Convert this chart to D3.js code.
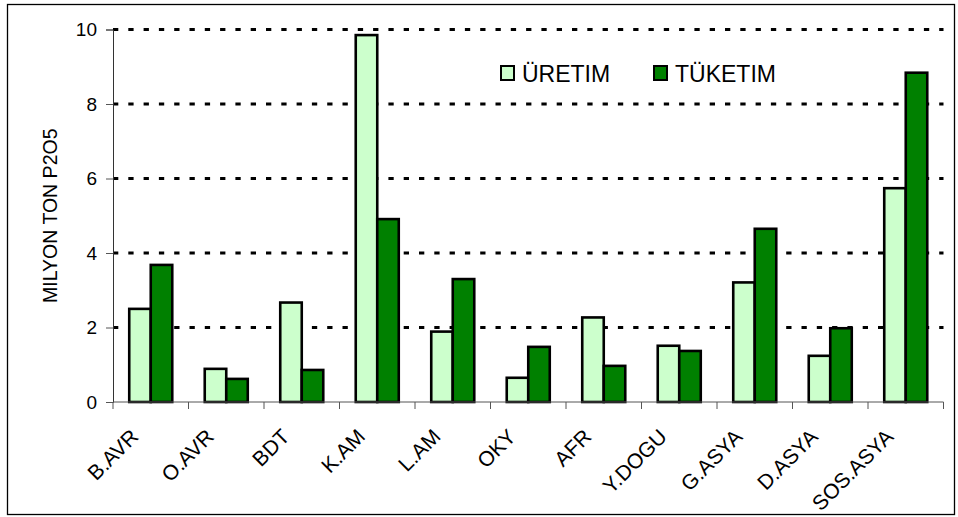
<!DOCTYPE html>
<html>
<head>
<meta charset="utf-8">
<script src="https://cdn.jsdelivr.net/npm/d3@7"></script>
<style>
  body { margin: 0; background: #fff; }
  text { font-family: Arial, "Liberation Sans", sans-serif; fill: #000; }
</style>
</head>
<body>
<svg id="chart" width="958" height="517"></svg>
<script>
// data
let regions = ['B.AVR', 'O.AVR', 'BDT', 'K.AM', 'L.AM', 'OKY', 'AFR', 'Y.DOGU', 'G.ASYA', 'D.ASYA', 'SOS.ASYA'];
let uretim  = [2.50, 0.89, 2.67, 9.85, 1.89, 0.65, 2.27, 1.51, 3.21, 1.24, 5.74];
let tuketim = [3.68, 0.62, 0.86, 4.91, 3.30, 1.48, 0.97, 1.37, 4.65, 1.98, 8.84];
let seriesNames = ['ÜRETIM', 'TÜKETIM'];
let seriesColors = ['#ccffcc', '#008000'];
let yTicks = [0, 2, 4, 6, 8, 10];
let yTitle = 'MILYON TON P2O5';

let rows = regions.map((r, i) => ({ region: r, values: [uretim[i], tuketim[i]] }));

let margin = { top: 29.5, right: 14.5, bottom: 115, left: 113 };
let width = 958 - margin.left - margin.right;
let height = 517 - margin.top - margin.bottom;

let svg = d3.select('#chart');

// outer frame
svg.append('rect')
  .attr('x', 7.5).attr('y', 4.5)
  .attr('width', 947).attr('height', 510)
  .attr('fill', 'none').attr('stroke', '#000').attr('stroke-width', 1.3);

let chart = svg.append('g')
  .attr('transform', 'translate(' + margin.left + ',' + margin.top + ')');

let x0 = d3.scaleBand().domain(regions).range([0, width]).padding(0);
let x1 = d3.scaleBand().domain(seriesNames).range([0, x0.bandwidth()])
  .paddingInner(0).paddingOuter(0.755);
let y = d3.scaleLinear().domain([0, 10]).range([height, 0]);

// dotted grid lines
chart.append('g')
  .selectAll('line')
  .data(yTicks.filter(d => d > 0))
  .enter().append('line')
  .attr('x1', 0).attr('x2', width)
  .attr('y1', d => y(d)).attr('y2', d => y(d))
  .attr('stroke', '#000')
  .attr('stroke-width', 3)
  .attr('stroke-dasharray', '5.3,10');

// bars
let groups = chart.selectAll('.grp')
  .data(rows)
  .enter().append('g')
  .attr('class', 'grp')
  .attr('transform', d => 'translate(' + x0(d.region) + ',0)');

groups.selectAll('rect')
  .data(d => d.values.map((v, i) => ({ key: seriesNames[i], value: v, i: i })))
  .enter().append('rect')
  .attr('x', d => x1(d.key))
  .attr('y', d => y(d.value))
  .attr('width', x1.bandwidth())
  .attr('height', d => height - y(d.value))
  .attr('fill', d => seriesColors[d.i])
  .attr('stroke', '#000')
  .attr('stroke-width', 2.6);

// y axis
let yAxis = chart.append('g')
  .call(d3.axisLeft(y).tickValues(yTicks).tickSize(7).tickPadding(9));
yAxis.select('.domain').attr('stroke', '#333');
yAxis.selectAll('.tick line').attr('stroke', '#555');
yAxis.selectAll('.tick text')
  .attr('font-size', 19)
  .attr('font-family', 'Arial, "Liberation Sans", sans-serif')
  .attr('fill', '#000');

// x axis, ticks sit on the category boundaries
let xAxis = chart.append('g')
  .attr('transform', 'translate(0,' + height + ')');
xAxis.append('line')
  .attr('x1', 0).attr('x2', width)
  .attr('stroke', '#555');
xAxis.selectAll('.tk')
  .data(regions.concat(['end']))
  .enter().append('line')
  .attr('class', 'tk')
  .attr('x1', (d, i) => i * x0.step()).attr('x2', (d, i) => i * x0.step())
  .attr('y1', 0).attr('y2', 7)
  .attr('stroke', '#555');
xAxis.selectAll('.lbl')
  .data(regions)
  .enter().append('text')
  .attr('class', 'lbl')
  .attr('text-anchor', 'end')
  .attr('font-size', 21)
  .attr('transform', d => 'translate(' + (x0(d) + x0.bandwidth() / 2 - 11) + ',36) rotate(-45)')
  .text(d => d);

// y title
svg.append('text')
  .attr('transform', 'translate(57,' + (margin.top + height / 2) + ') rotate(-90)')
  .attr('text-anchor', 'middle')
  .attr('font-size', 19.5)
  .text(yTitle);

// legend
let legendX = [501, 654];
let legend = svg.selectAll('.leg')
  .data(seriesNames)
  .enter().append('g')
  .attr('class', 'leg')
  .attr('transform', (d, i) => 'translate(' + legendX[i] + ',66)');
legend.append('rect')
  .attr('width', 13).attr('height', 14)
  .attr('fill', (d, i) => seriesColors[i])
  .attr('stroke', '#000').attr('stroke-width', 2);
legend.append('text')
  .attr('x', 21).attr('y', 16)
  .attr('font-size', 23)
  .text(d => d);
</script>
</body>
</html>
